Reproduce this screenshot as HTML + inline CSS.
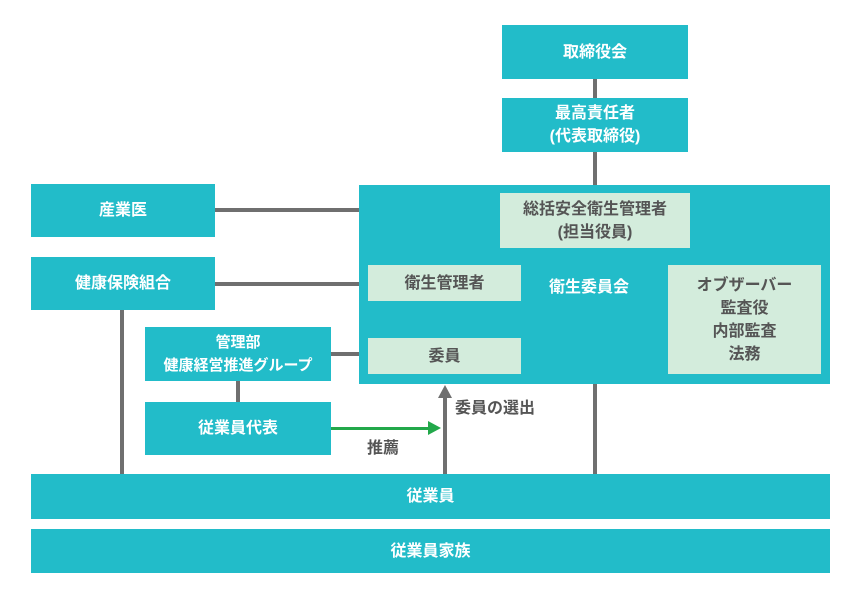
<!DOCTYPE html>
<html><head><meta charset="utf-8"><style>
body{margin:0;width:860px;height:600px;background:#fff;position:relative;overflow:hidden;font-family:"Liberation Sans","Noto Sans CJK JP",sans-serif;font-weight:bold;}
.b{position:absolute;background:#22BCC9;color:#fff;display:flex;align-items:center;justify-content:center;text-align:center;font-size:16px;line-height:23px;}
.l{position:absolute;background:#D3ECDC;color:#555;display:flex;align-items:center;justify-content:center;text-align:center;font-size:16px;line-height:23px;}
.h{position:absolute;background:#6f6f6f;}
.t{position:absolute;color:#555;font-size:16px;}
</style></head><body>
<div class="h" style="left:593px;top:79px;width:4px;height:20px"></div>
<div class="h" style="left:593px;top:152px;width:4px;height:34px"></div>
<div class="h" style="left:215px;top:208px;width:145px;height:4px"></div>
<div class="h" style="left:215px;top:282px;width:153px;height:4px"></div>
<div class="h" style="left:120px;top:310px;width:4px;height:165px"></div>
<div class="h" style="left:331px;top:352px;width:37px;height:4px"></div>
<div class="h" style="left:236px;top:381px;width:4px;height:22px"></div>
<div class="h" style="left:593px;top:384px;width:4px;height:91px"></div>
<div class="h" style="left:443px;top:396px;width:4px;height:79px"></div>
<div class="b" style="left:502px;top:25px;width:186px;height:54px">取締役会</div>
<div class="b" style="left:502px;top:98px;width:186px;height:54px">最高責任者<br>(代表取締役)</div>
<div class="b" style="left:359px;top:185px;width:471px;height:199px"></div>
<div class="t" style="left:549px;top:273px;color:#fff">衛生委員会</div>
<div class="l" style="left:500px;top:193px;width:190px;height:55px">総括安全衛生管理者<br>(担当役員)</div>
<div class="l" style="left:368px;top:265px;width:153px;height:36px">衛生管理者</div>
<div class="l" style="left:368px;top:338px;width:153px;height:36px">委員</div>
<div class="l" style="left:668px;top:265px;width:153px;height:109px">オブザーバー<br>監査役<br>内部監査<br>法務</div>
<div class="b" style="left:31px;top:184px;width:184px;height:53px">産業医</div>
<div class="b" style="left:31px;top:257px;width:184px;height:53px">健康保険組合</div>
<div class="b" style="left:145px;top:327px;width:186px;height:54px;font-size:15px">管理部<br>健康経営推進グループ</div>
<div class="b" style="left:145px;top:402px;width:186px;height:53px">従業員代表</div>
<div class="t" style="left:455px;top:394px">委員の選出</div>
<div class="t" style="left:367px;top:434px">推薦</div>
<div class="b" style="left:31px;top:474px;width:799px;height:45px">従業員</div>
<div class="b" style="left:31px;top:529px;width:799px;height:44px">従業員家族</div>
<svg style="position:absolute;left:0;top:0" width="860" height="600"><polygon points="445,385 438,398 452,398" fill="#6f6f6f"/><rect x="331" y="427" width="98" height="3" fill="#22A84A"/><polygon points="441,428 428,421 428,435" fill="#22A84A"/></svg>
</body></html>
